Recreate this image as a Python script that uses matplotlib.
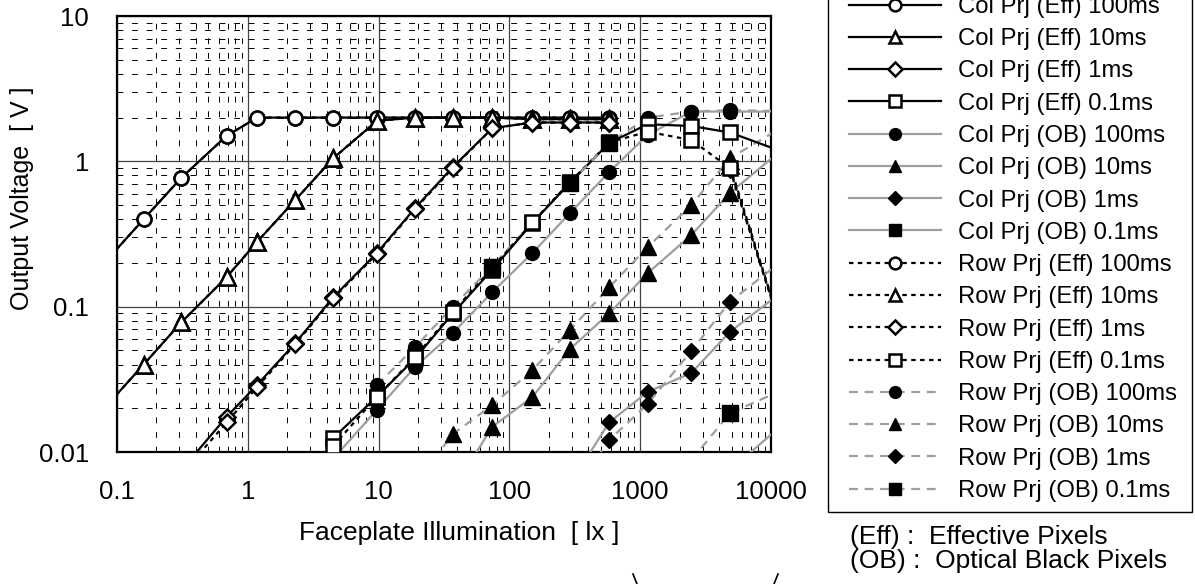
import numpy as np
import matplotlib.pyplot as plt
from matplotlib.lines import Line2D
from matplotlib.patches import Rectangle
from matplotlib.ticker import NullFormatter

plt.rcParams['font.family'] = ['Liberation Sans', 'DejaVu Sans']

nan = np.nan

# faceplate illumination [lx]; first and last entries sit outside the plotted range
illum = [0.08, 0.16, 0.31, 0.69, 1.18, 2.3, 4.5, 9.7, 19, 37, 74, 150,
         290, 580, 1140, 2460, 4850, 19400]

# output voltage [V], one list per series (nan = no point)
col_eff_100ms = [0.2, 0.4, 0.77, 1.5, 2.0, 2.0, 2.0, 2.0, 2.0, 2.0, 2.0, 2.0,
                 2.0, 2.0, nan, nan, nan, nan]
col_eff_10ms = [0.02, 0.04, 0.078, 0.16, 0.28, 0.54, 1.05, 1.9, 2.0, 2.0, 2.0, 1.95,
                1.95, 1.95, nan, nan, nan, nan]
col_eff_1ms = [nan, nan, 0.0075, 0.0175, 0.029, 0.056, 0.116, 0.234, 0.477, 0.914, 1.69, 1.85,
               1.85, 1.85, nan, nan, nan, nan]
col_eff_01ms = [nan, nan, nan, nan, nan, nan, 0.0125, 0.024, 0.044, 0.09, 0.18, 0.377,
                0.71, 1.34, 1.8, 1.75, 1.58, 1.0]

col_ob_100ms = [nan, nan, nan, nan, nan, nan, 0.009, 0.0195, 0.0385, 0.066, 0.126, 0.234,
                0.44, 0.845, 1.52, 2.2, 2.2, 2.2]
col_ob_10ms = [nan, nan, nan, nan, nan, nan, nan, nan, nan, 0.0055, 0.0149, 0.0239,
               0.051, 0.09, 0.17, 0.311, 0.605, 1.71]
col_ob_1ms = [nan, nan, nan, nan, nan, nan, nan, nan, nan, nan, nan, nan,
              0.006, 0.016, 0.0259, 0.035, 0.067, 0.175]
col_ob_01ms = [nan, nan, nan, nan, nan, nan, nan, nan, nan, nan, nan, nan,
               nan, nan, nan, nan, 0.0075, 0.022]

row_eff_100ms = [0.2, 0.4, 0.77, 1.5, 2.0, 2.0, 2.0, 2.0, 2.0, 2.0, 2.0, 2.0,
                 2.0, 1.95, nan, nan, nan, nan]
row_eff_10ms = [0.02, 0.04, 0.078, 0.16, 0.28, 0.54, 1.05, 1.9, 2.0, 2.0, 2.0, 1.95,
                1.95, 1.95, nan, nan, 0.94, 0.018]
row_eff_1ms = [nan, nan, 0.007, 0.016, 0.028, 0.055, 0.114, 0.23, 0.47, 0.9, 1.69, 1.85,
               1.85, 1.85, nan, nan, 0.88, 0.018]
row_eff_01ms = [nan, nan, nan, nan, nan, nan, 0.011, 0.024, 0.045, 0.092, 0.185, 0.38,
                0.72, 1.35, 1.6, 1.4, 0.9, 0.018]

row_ob_100ms = [nan, nan, nan, nan, nan, nan, nan, 0.0289, 0.0527, 0.1, 0.19, 0.38,
                0.71, 1.34, 2.0, 2.2, 2.25, 2.2]
row_ob_10ms = [nan, nan, nan, nan, nan, nan, nan, nan, 0.006, 0.0133, 0.021, 0.0366,
               0.069, 0.136, 0.257, 0.5, 1.05, 2.2]
row_ob_1ms = [nan, nan, nan, nan, nan, nan, nan, nan, nan, nan, nan, nan,
              0.005, 0.0121, 0.0214, 0.0495, 0.108, 0.287]
row_ob_01ms = [nan, nan, nan, nan, nan, nan, nan, nan, nan, nan, 0.187, nan,
               0.71, 1.34, nan, 0.0088, 0.0185, 0.032]

GRAY = '#9e9e9e'
SOLID = '-'
DOT = (0, (2, 2))
DASH = (0, (4, 3))

# (label, values, marker, marker size, hollow?, line colour, linestyle, zorder)
series = [
    ("Col Prj (Eff) 100ms", col_eff_100ms, 'o', 10, True, 'black', SOLID, 4),
    ("Col Prj (Eff) 10ms", col_eff_10ms, '^', 11, True, 'black', SOLID, 4),
    ("Col Prj (Eff) 1ms", col_eff_1ms, 'D', 8, True, 'black', SOLID, 4),
    ("Col Prj (Eff) 0.1ms", col_eff_01ms, 's', 10, True, 'black', SOLID, 4),
    ("Col Prj (OB) 100ms", col_ob_100ms, 'o', 10, False, GRAY, SOLID, 3),
    ("Col Prj (OB) 10ms", col_ob_10ms, '^', 11, False, GRAY, SOLID, 3),
    ("Col Prj (OB) 1ms", col_ob_1ms, 'D', 8, False, GRAY, SOLID, 3),
    ("Col Prj (OB) 0.1ms", col_ob_01ms, 's', 11, False, GRAY, SOLID, 3),
    ("Row Prj (Eff) 100ms", row_eff_100ms, 'o', 10, True, 'black', DOT, 4),
    ("Row Prj (Eff) 10ms", row_eff_10ms, '^', 11, True, 'black', DOT, 4),
    ("Row Prj (Eff) 1ms", row_eff_1ms, 'D', 8, True, 'black', DOT, 4),
    ("Row Prj (Eff) 0.1ms", row_eff_01ms, 's', 10, True, 'black', DOT, 4),
    ("Row Prj (OB) 100ms", row_ob_100ms, 'o', 10, False, GRAY, DASH, 3),
    ("Row Prj (OB) 10ms", row_ob_10ms, '^', 11, False, GRAY, DASH, 3),
    ("Row Prj (OB) 1ms", row_ob_1ms, 'D', 8, False, GRAY, DASH, 3),
    ("Row Prj (OB) 0.1ms", row_ob_01ms, 's', 11, False, GRAY, DASH, 5),
]

W, H = 1195, 584
fig = plt.figure(figsize=(W / 100, H / 100), dpi=100)
ax = fig.add_axes([117 / W, 1 - 452 / H, (771 - 117) / W, (452 - 16) / H])

handles = []
for label, vals, mk, ms, hollow, color, ls, z in series:
    line, = ax.plot(illum, vals, color=color, lw=1.6, linestyle=ls,
                    marker=mk, markersize=ms,
                    markerfacecolor='white' if hollow else 'black',
                    markeredgecolor='black', markeredgewidth=1.8 if hollow else 1.0,
                    zorder=z, label=label)
    handles.append(line)

ax.set_xscale('log')
ax.set_yscale('log')
ax.set_xlim(0.1, 10000)
ax.set_ylim(0.01, 10)
ax.set_xticks([0.1, 1, 10, 100, 1000, 10000])
ax.set_xticklabels(['0.1', '1', '10', '100', '1000', '10000'])
ax.set_yticks([0.01, 0.1, 1, 10])
ax.set_yticklabels(['0.01', '0.1', '1', '10'])
ax.xaxis.set_minor_formatter(NullFormatter())
ax.yaxis.set_minor_formatter(NullFormatter())
ax.tick_params(which='both', length=0, labelsize=18.5, pad=20)

ax.grid(which='major', color='#444444', lw=0.9, ls='-')
ax.grid(which='minor', color='black', lw=0.7, ls=(0, (6, 9)))
ax.set_axisbelow(True)
for sp in ax.spines.values():
    sp.set_linewidth(1.6)
    sp.set_color('black')

fig.text(459 / W, 1 - 533 / H, "Faceplate Illumination  [ lx ]",
         ha='center', va='center', fontsize=19)
fig.text(22 / W, 1 - 198 / H, "Output Voltage  [ V ]", rotation=90,
         ha='center', va='center', fontsize=18)

# legend box runs off the top edge, so the frame is drawn on its own
fig.add_artist(Rectangle((828 / W, 1 - 512 / H), (1192 - 828) / W, 1.0,
                         transform=fig.transFigure, fill=False,
                         edgecolor='black', lw=1.0))
leg = fig.legend(handles=handles, loc='lower right',
                 bbox_to_anchor=(1177 / W, 1 - 502 / H), fontsize=17.2,
                 frameon=False, handlelength=3.85, handletextpad=0.71,
                 labelspacing=0.43, borderpad=0, borderaxespad=0,
                 markerscale=0.85)

fig.text(850 / W, 1 - 537 / H, "(Eff) :  Effective Pixels",
         ha='left', va='center', fontsize=19)
fig.text(850 / W, 1 - 561 / H, "(OB) :  Optical Black Pixels",
         ha='left', va='center', fontsize=19)

# fragments of a bracket cut off at the lower edge
fig.add_artist(Line2D([633 / W, 637 / W], [1 - 574 / H, 1 - 584 / H],
                      color='black', lw=1.2))
fig.add_artist(Line2D([778 / W, 774 / W], [1 - 574 / H, 1 - 584 / H],
                      color='black', lw=1.2))

fig.savefig("out.png", dpi=100)
